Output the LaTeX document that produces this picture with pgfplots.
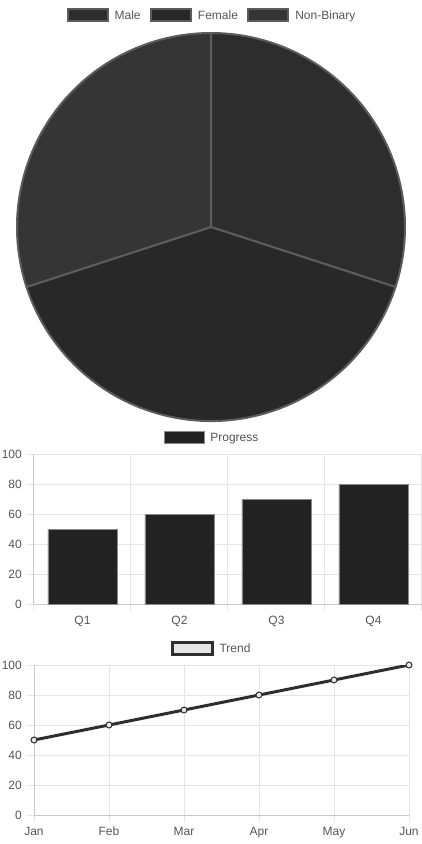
\documentclass[border=0pt]{standalone}
\usepackage{pgfplots}
\pgfplotsset{compat=1.18}
\usepackage{fontspec}
\setmainfont{Liberation Sans}

\definecolor{maleC}{HTML}{2D2D2D}
\definecolor{femaleC}{HTML}{282828}
\definecolor{nbC}{HTML}{353535}
\definecolor{sliceB}{HTML}{5C5C5C}
\definecolor{barC}{HTML}{222222}
\definecolor{barB}{HTML}{8A8A8A}
\definecolor{lineC}{HTML}{2E2E2E}
\definecolor{markC}{HTML}{E6E6E6}
\definecolor{gridC}{HTML}{E5E5E5}
\definecolor{axisC}{HTML}{C8C8C8}
\definecolor{txtC}{HTML}{555555}

% pie shares
\def\vMale{30}\def\vFemale{40}\def\vNB{30}
\pgfmathsetmacro\tot{\vMale+\vFemale+\vNB}
\pgfmathsetmacro\aA{90-360*\vMale/\tot}
\pgfmathsetmacro\aB{\aA-360*\vFemale/\tot}
\pgfmathsetmacro\aC{\aB-360*\vNB/\tot}

\pgfplotsset{
  txt/.style={font=\fontsize{9}{10.5}\selectfont},
  boxlegend/.style={
    legend image code/.code={\draw[##1] (0pt,-3.6pt) rectangle (30pt,5.4pt);}},
  toplegend/.style={
    legend columns=-1,
    legend style={draw=none, fill=none, inner sep=0pt, txt, text=txtC,
      nodes={inner sep=0pt},
      /tikz/every odd column/.append style={column sep=4.5pt},
      /tikz/every even column/.append style={column sep=7pt}}},
  chart/.style={
    scale only axis,
    axis lines*=left,
    axis line style={draw=axisC, line width=0.75pt},
    tick align=outside,
    major tick length=5.6pt,
    tick style={draw=gridC, line width=0.75pt},
    grid style={draw=gridC, line width=0.75pt},
    ymin=0, ymax=100, ytick={0,20,...,100}, ymajorgrids, xmajorgrids,
    tick label style={txt, text=txtC},
    /pgf/number format/assume math mode=true,
    boxlegend, toplegend,
  },
}

\begin{document}
\begin{tikzpicture}
\path[use as bounding box] (0,0) rectangle (316.5pt,-633pt);

% pie
\begin{axis}[
  at={(158.25pt,-170.25pt)}, anchor=center,
  scale only axis, width=291pt, height=291pt,
  xmin=-1, xmax=1, ymin=-1, ymax=1,
  hide axis, clip=false,
  boxlegend, toplegend,
  legend style={at={(0.5,1.0464)}, anchor=center},
]
\addlegendimage{fill=maleC, draw=sliceB, line width=1.5pt}
\addlegendentry{Male}
\addlegendimage{fill=femaleC, draw=sliceB, line width=1.5pt}
\addlegendentry{Female}
\addlegendimage{fill=nbC, draw=sliceB, line width=1.5pt}
\addlegendentry{Non-Binary}
\filldraw[fill=maleC, draw=sliceB, line width=1.5pt, line join=round]
  (axis cs:0,0) -- ++(90:145.5pt) arc[start angle=90, end angle=\aA, radius=145.5pt] -- cycle;
\filldraw[fill=femaleC, draw=sliceB, line width=1.5pt, line join=round]
  (axis cs:0,0) -- ++(\aA:145.5pt) arc[start angle=\aA, end angle=\aB, radius=145.5pt] -- cycle;
\filldraw[fill=nbC, draw=sliceB, line width=1.5pt, line join=round]
  (axis cs:0,0) -- ++(\aB:145.5pt) arc[start angle=\aB, end angle=\aC, radius=145.5pt] -- cycle;
\end{axis}

% bars
\begin{axis}[
  chart,
  at={(25.5pt,-453pt)}, anchor=south west,
  width=291pt, height=112.5pt,
  xmin=-0.5, xmax=3.5,
  xtick={-0.5,0.5,1.5,2.5,3.5},
  x tick label as interval,
  xticklabels={Q1,Q2,Q3,Q4},
  legend style={at={(0.4562,1.1133)}, anchor=center},
]
\addplot[ybar, bar width=51.75pt, fill=barC, draw=barB, line width=0.5pt]
  coordinates {(0,50) (1,60) (2,70) (3,80)};
\addlegendentry{Progress}
\end{axis}

% line
\begin{axis}[
  chart,
  at={(25.5pt,-611.25pt)}, anchor=south west,
  width=281.25pt, height=112.5pt,
  xmin=0, xmax=5,
  xtick={0,...,5}, xticklabels={Jan,Feb,Mar,Apr,May,Jun},
  legend style={at={(0.4707,1.1133)}, anchor=center},
]
\addplot[draw=lineC, line width=2.25pt, mark=*, mark size=2.25pt,
  mark options={fill=markC, draw=lineC, line width=0.75pt}, fill=markC]
  coordinates {(0,50) (1,60) (2,70) (3,80) (4,90) (5,100)};
\addlegendentry{Trend}
\end{axis}
\end{tikzpicture}
\end{document}
